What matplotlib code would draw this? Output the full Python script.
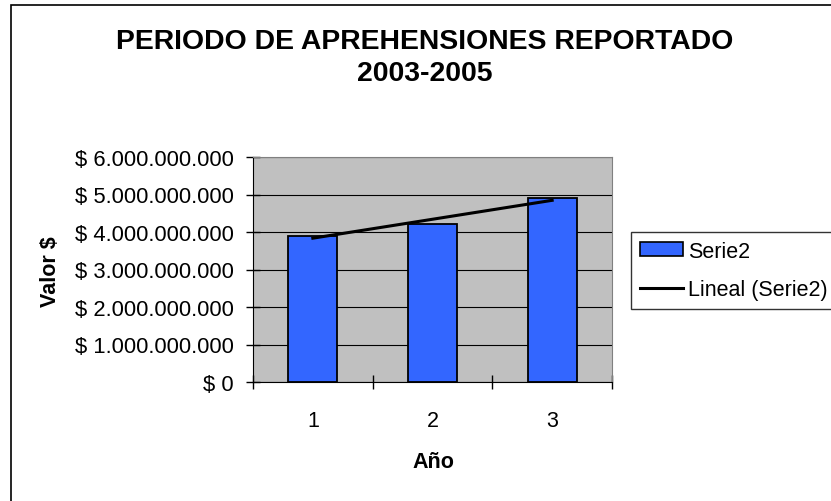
import matplotlib
matplotlib.use("Agg")
import matplotlib.pyplot as plt
import numpy as np
from matplotlib.patches import Rectangle, Patch
from matplotlib.lines import Line2D
from matplotlib.ticker import FuncFormatter, MultipleLocator

plt.rcParams['font.family'] = ['Liberation Sans', 'DejaVu Sans']

categories = [1, 2, 3]
serie2 = [3.90e9, 4.21e9, 4.91e9]
title = "PERIODO DE APREHENSIONES REPORTADO\n2003-2005"

W, H = 831, 502
fig = plt.figure(figsize=(W/100, H/100), dpi=100)
fig.patch.set_facecolor('white')

# outer chart border (extends beyond the image on right/bottom)
fig.patches.append(Rectangle((11/W, -0.2), 1.5, (H-6)/H + 0.2, transform=fig.transFigure,
                             fill=False, edgecolor='black', linewidth=1.2))

ax = fig.add_axes([253/W, (H-383)/H, (612-253)/W, (383-158)/H])
ax.set_facecolor('#C0C0C0')
ax.set_xlim(0.5, 3.5)
ax.set_ylim(0, 6e9)
ax.yaxis.set_major_locator(MultipleLocator(1e9))
ax.set_axisbelow(True)
ax.grid(axis='y', color='black', linewidth=0.8)

ax.bar(categories, serie2, width=0.41, color='#3366FF', edgecolor='black', linewidth=1.3, zorder=2)

x = np.array(categories, dtype=float)
coef = np.polyfit(x, serie2, 1)
ax.plot(x, np.polyval(coef, x), color='black', linewidth=2.2, zorder=3)

def fmt(v, pos):
    s = f"{int(round(v)):,}".replace(",", ".")
    return f"$ {s}"
ax.yaxis.set_major_formatter(FuncFormatter(fmt))

ax.set_xticks([1, 2, 3])
ax.set_xticks([0.5, 1.5, 2.5, 3.5], minor=True)
ax.tick_params(axis='x', which='major', length=0, labelsize=15.5, pad=20)
ax.tick_params(axis='x', which='minor', direction='inout', length=10, width=1)
ax.tick_params(axis='y', direction='inout', length=10, width=1, labelsize=15.8, pad=9)

for s in ['top', 'right']:
    ax.spines[s].set_color('#808080')
for s in ['left', 'bottom']:
    ax.spines[s].set_color('black')

fig.text(425/W, 1 - 58/H, title, ha='center', va='center', fontsize=20.4, fontweight='bold',
         linespacing=1.28)

fig.text(50/W, 1 - 272/H, "Valor $", rotation=90, ha='center', va='center',
         fontsize=15.5, fontweight='bold')
fig.text(433/W, 1 - 463/H, "Año", ha='center', va='center', fontsize=15.5, fontweight='bold')

handles = [Patch(facecolor='#3366FF', edgecolor='black', linewidth=1.2),
           Line2D([0], [0], color='black', linewidth=2.2)]
leg = fig.legend(handles, ['Serie2', 'Lineal (Serie2)'], loc='upper left',
                 bbox_to_anchor=(631/W, 1 - 233/H), bbox_transform=fig.transFigure,
                 fontsize=15.5, frameon=True, fancybox=False, borderaxespad=0,
                 handlelength=2.0, handleheight=0.6, handletextpad=0.25,
                 labelspacing=0.81, borderpad=0.41)
leg.get_frame().set_edgecolor('black')
leg.get_frame().set_linewidth(1.0)

fig.savefig('out.png', dpi=100)
